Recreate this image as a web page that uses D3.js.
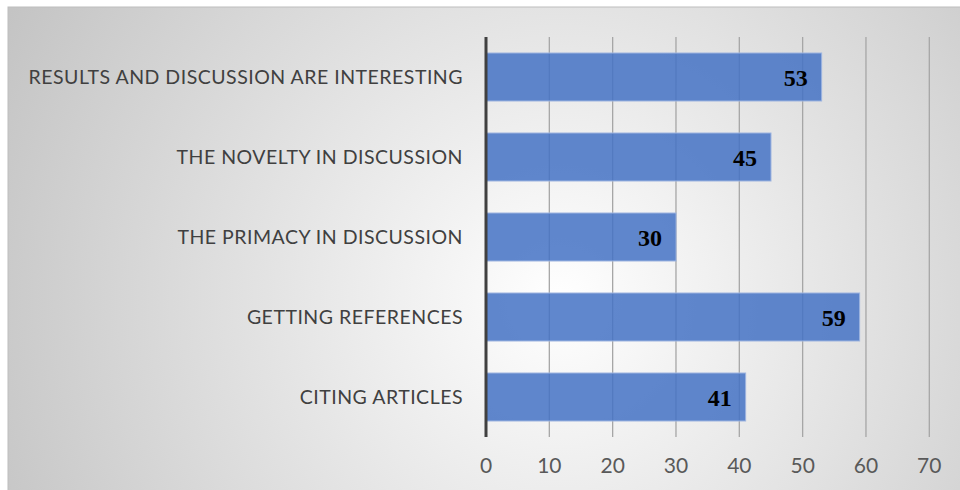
<!DOCTYPE html>
<html>
<head>
<meta charset="utf-8">
<script src="https://cdn.jsdelivr.net/npm/d3@7"></script>
<style>
  body { margin: 0; background: #fff; }
</style>
</head>
<body>
<div id="chart"></div>
<script>
// data
var categories = ["RESULTS AND DISCUSSION ARE INTERESTING", "THE NOVELTY IN DISCUSSION",
  "THE PRIMACY IN DISCUSSION", "GETTING REFERENCES", "CITING ARTICLES"];
var values = [53, 45, 30, 59, 41];
var xTicks = [0, 10, 20, 30, 40, 50, 60, 70];

var W = 960, H = 490;
var margin = {top: 37, left: 486, right: 30, bottom: 57};

var svg = d3.select("#chart")
  .append("svg")
    .attr("width", W)
    .attr("height", H);

// background with soft radial shading
var defs = svg.append("defs");
var grad = defs.append("radialGradient")
  .attr("id", "bg")
  .attr("gradientUnits", "userSpaceOnUse")
  .attr("cx", 560).attr("cy", 300).attr("r", 620);
grad.append("stop").attr("offset", "0%").attr("stop-color", "#ffffff");
grad.append("stop").attr("offset", "100%").attr("stop-color", "#c4c4c4");

svg.append("rect")
  .attr("x", 8).attr("y", 7)
  .attr("width", W).attr("height", H)
  .attr("fill", "url(#bg)")
  .attr("stroke", "#bdbdbd")
  .attr("stroke-width", 1);

var x = d3.scaleLinear()
  .domain([0, 70])
  .range([margin.left, margin.left + 443.3]);

var y = d3.scaleBand()
  .domain(categories)
  .range([margin.top, H - margin.bottom + 4])
  .paddingInner(0.4)
  .paddingOuter(0.2);

var y0 = margin.top, y1 = H - margin.bottom + 4;

// gridlines
svg.append("g")
  .selectAll("line")
  .data(xTicks.slice(1))
  .enter()
  .append("line")
    .attr("x1", function (d) { return x(d); })
    .attr("x2", function (d) { return x(d); })
    .attr("y1", y0)
    .attr("y2", y1)
    .attr("stroke", "#a6a6a6")
    .attr("stroke-width", 1.3);

// bars
svg.append("g")
  .selectAll("rect")
  .data(values)
  .enter()
  .append("rect")
    .attr("x", x(0))
    .attr("y", function (d, i) { return y(categories[i]); })
    .attr("width", function (d) { return x(d) - x(0); })
    .attr("height", y.bandwidth())
    .attr("fill", "#4472c4")
    .attr("fill-opacity", 0.85)
    .attr("stroke", "#9db4e0")
    .attr("stroke-width", 1);

// value labels
svg.append("g")
  .selectAll("text")
  .data(values)
  .enter()
  .append("text")
    .attr("x", function (d) { return x(d) - 14; })
    .attr("y", function (d, i) { return y(categories[i]) + y.bandwidth() / 2 + 9; })
    .attr("text-anchor", "end")
    .style("font-family", "'Liberation Serif', 'Times New Roman', serif")
    .style("font-weight", "bold")
    .style("font-size", "24px")
    .style("fill", "#000")
    .text(function (d) { return d; });

// y axis line
svg.append("line")
  .attr("x1", x(0)).attr("x2", x(0))
  .attr("y1", y0).attr("y2", y1)
  .attr("stroke", "#404040")
  .attr("stroke-width", 3);

// category labels
svg.append("g")
  .selectAll("text")
  .data(categories)
  .enter()
  .append("text")
    .attr("x", 463)
    .attr("y", function (d) { return y(d) + y.bandwidth() / 2 + 7; })
    .attr("text-anchor", "end")
    .style("font-family", "Lato, 'Open Sans', sans-serif")
    .style("font-size", "19.5px")
    .style("letter-spacing", "0.5px")
    .style("fill", "#404040")
    .text(function (d) { return d; });

// x tick labels
svg.append("g")
  .selectAll("text")
  .data(xTicks)
  .enter()
  .append("text")
    .attr("x", function (d) { return x(d); })
    .attr("y", 473)
    .attr("text-anchor", "middle")
    .style("font-family", "Lato, 'Open Sans', sans-serif")
    .style("font-size", "21px")
    .style("fill", "#595959")
    .text(function (d) { return d; });
</script>
</body>
</html>
